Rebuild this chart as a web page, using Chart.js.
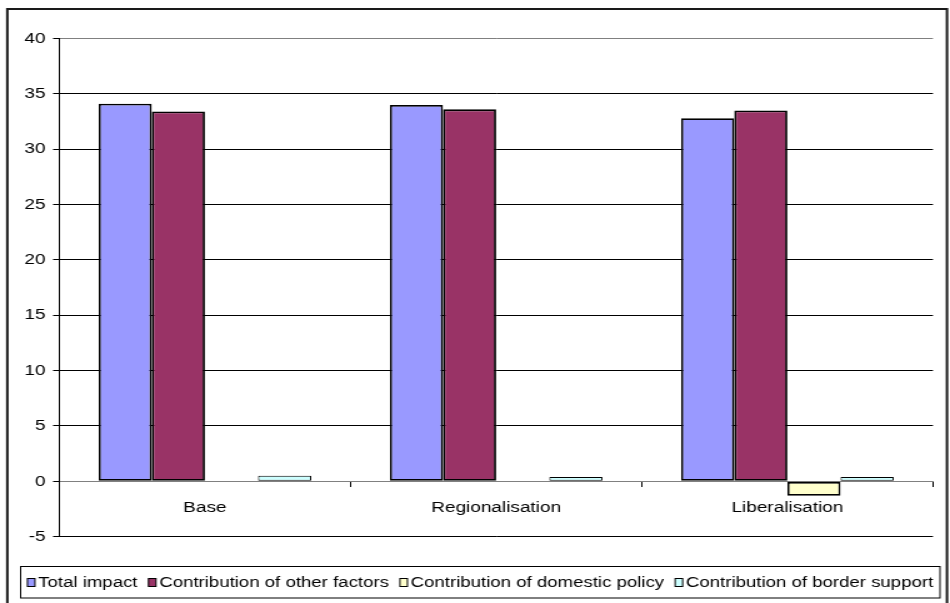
<!DOCTYPE html>
<html>
<head>
<meta charset="utf-8">
<title>Impact decomposition</title>
<script src="https://cdn.jsdelivr.net/npm/chart.js@4/dist/chart.umd.min.js"></script>
<style>
  html, body { margin: 0; padding: 0; background: #ffffff; }
  body { width: 950px; height: 603px; overflow: hidden; }
  /* the drawing is laid out on a 760px-wide canvas and widened to 950px */
  #wrap { width: 760px; height: 603px; transform: scaleX(1.25); transform-origin: 0 0; }
  canvas { display: block; }
</style>
</head>
<body>
<div id="wrap"><canvas id="chart" width="760" height="603"></canvas></div>
<script>
// Scenarios along the category axis
const categories = ['Base', 'Regionalisation', 'Liberalisation'];

// Series values per scenario
const totalImpact    = [34.1, 34.0, 32.8];
const otherFactors   = [33.4, 33.6, 33.5];
const domesticPolicy = [0, 0, -1.3];
const borderSupport  = [0.5, 0.4, 0.4];

// Series names shown in the key
const seriesNames = [
  'Total impact',
  'Contribution of other factors',
  'Contribution of domestic policy',
  'Contribution of border support'
];

// Value axis ticks
const yTickMin = -5;
const yTickMax = 40;
const yTickStep = 5;

const seriesColors = ['#9999FF', '#993366', '#FFFFCC', '#CCFFFF'];
const seriesValues = [totalImpact, otherFactors, domesticPolicy, borderSupport];

const FONT = { family: '"Liberation Sans", Arial, sans-serif', size: 15.2 };
const KEY_FONT_SIZE = 14.9;

// Outer frame and the boxed key under the plot
const frameAndKey = {
  id: 'frameAndKey',
  afterDraw(chart) {
    const ctx = chart.ctx;
    ctx.save();
    ctx.strokeStyle = '#1a1a1a';
    ctx.lineWidth = 2;
    ctx.strokeRect(5.85, 9, 757.6 - 5.85, 640);

    const boxL = 16.5, boxR = 752, boxT = 566.5, boxB = 598;
    ctx.lineWidth = 1;
    ctx.strokeStyle = '#000000';
    ctx.strokeRect(boxL, boxT, boxR - boxL, boxB - boxT);

    ctx.font = KEY_FONT_SIZE + 'px ' + FONT.family;
    ctx.textBaseline = 'middle';
    ctx.textAlign = 'left';
    const swatchW = 6, swatchH = 8, swatchGap = 2.6, itemGap = 8.8;
    const items = chart.data.datasets.map(ds => ({
      text: ds.label,
      color: ds.backgroundColor,
      w: ctx.measureText(ds.label).width
    }));
    let total = 0;
    items.forEach((it, i) => { total += swatchW + swatchGap + it.w + (i ? itemGap : 0); });
    let x = (boxL + boxR) / 2 - total / 2;
    const cy = 582.5;
    items.forEach(it => {
      ctx.fillStyle = it.color;
      ctx.fillRect(x, cy - swatchH / 2, swatchW, swatchH);
      ctx.strokeStyle = '#000000';
      ctx.strokeRect(x, cy - swatchH / 2, swatchW, swatchH);
      x += swatchW + swatchGap;
      ctx.fillStyle = '#000000';
      ctx.fillText(it.text, x, cy);
      x += it.w + itemGap;
    });
    ctx.restore();
  }
};

new Chart(document.getElementById('chart'), {
  type: 'bar',
  data: {
    labels: categories,
    datasets: seriesNames.map((name, i) => ({
      label: name,
      data: seriesValues[i],
      backgroundColor: seriesColors[i],
      borderColor: '#000000',
      // thinner outline on very short bars so their fill stays visible
      borderWidth: c => (Math.abs(c.raw) < 1 ? 1 : 1.8),
      borderSkipped: false,
      categoryPercentage: 0.73,
      barPercentage: 1.0
    }))
  },
  options: {
    responsive: false,
    animation: false,
    devicePixelRatio: 1,
    layout: { padding: { left: 7.44, top: 38.5, right: 13.6, bottom: 66.3 } },
    plugins: {
      legend: { display: false },
      tooltip: { enabled: false }
    },
    scales: {
      x: {
        type: 'category',
        position: { y: 0 },
        offset: true,
        afterFit(scale) { scale.height = 0; },
        grid: {
          display: true,
          offset: true,
          drawOnChartArea: false,
          drawTicks: true,
          tickLength: 5,
          color: '#000000',
          tickColor: '#000000'
        },
        border: { display: true, color: '#808080', width: 1 },
        ticks: { font: FONT, color: '#000000', padding: 12, maxRotation: 0, autoSkip: false }
      },
      y: {
        min: yTickMin,
        max: yTickMax,
        afterFit(scale) { scale.width = 40; },
        grid: {
          color: ctx => (ctx.tick && (ctx.tick.value === yTickMax || ctx.tick.value === 0)) ? '#808080' : '#000000',
          tickColor: '#000000',
          tickLength: 5,
          lineWidth: 1
        },
        border: { display: true, color: '#000000', width: 1 },
        ticks: { stepSize: yTickStep, font: FONT, color: '#000000', padding: 6 }
      }
    }
  },
  plugins: [frameAndKey]
});
</script>
</body>
</html>
